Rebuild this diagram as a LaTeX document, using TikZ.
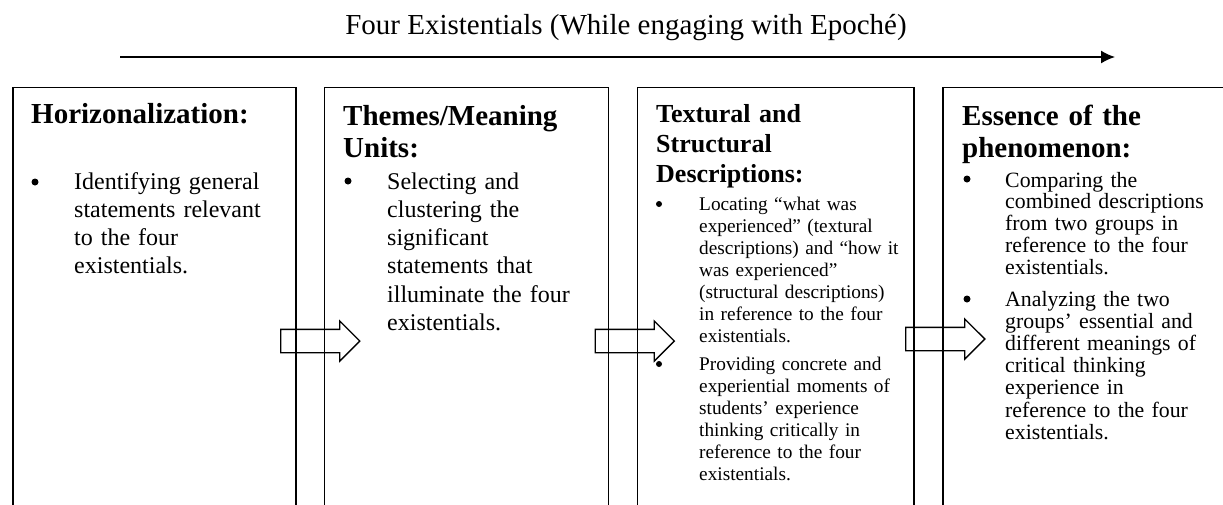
\documentclass[tikz,border=0pt]{standalone}
\usepackage{fontspec}
\setmainfont{Liberation Serif}
\usepackage{tikz}
\usetikzlibrary{shapes,positioning,calc,arrows.meta}

\tikzset{
    stagebox/.style={draw,line width=1.8pt,anchor=north west,
        minimum height=440pt,inner sep=0pt},
    stagehead/.style={anchor=base west,inner sep=0pt,align=left,
        text width=265pt,font=\bfseries\fontsize{29}{32}\selectfont},
    stagetext/.style={anchor=base west,inner sep=0pt,align=left,
        text width=220pt},
    stagebullet/.style={circle,fill=black,inner sep=0pt,minimum size=7pt},
    stagearrow/.style={draw,line width=1.3pt,single arrow,
        single arrow head extend=8.5pt,minimum width=0pt,
        minimum height=79pt,inner sep=11pt}
}

\begin{document}
\begin{tikzpicture}[x=1pt,y=1pt]
    \useasboundingbox (0,0) rectangle (1223,-504);

    %title and direction arrow
    \node[anchor=base,inner sep=0pt,font=\fontsize{29}{32}\selectfont]
        (title) at (626,-34) {Four Existentials (While engaging with Epoché)};
    \coordinate (flowstart) at (120,-57);
    \coordinate (flowend) at (1115,-57);
    \draw[line width=1.5pt,-{Latex[length=14pt,width=13pt]}]
        (flowstart) -- (flowend);

    %the four stages (bottom and right side run off the page)
    \node[stagebox,minimum width=283pt] (horiz) at (12,-86.5) {};
    \node[stagebox,minimum width=284pt] (themes) at (323.5,-86.5) {};
    \node[stagebox,minimum width=276.5pt] (descr) at (636.5,-86.5) {};
    \node[stagebox,minimum width=290pt] (essence) at (942,-86.5) {};

    %block arrows between the stages
    \node[stagearrow] (step1) at (314.5,-341) {};
    \node[stagearrow] (step2) at (629,-341) {};
    \node[stagearrow] (step3) at (939.5,-339) {};

    %stage 1
    \node[stagehead] (horizhead) at (31,-123) {Horizonalization:};
    \node[stagebullet] (horizdot) at (35,-182) {};
    \node[stagetext,font=\fontsize{24}{28.3}\selectfont] (horiztext)
        at (74,-189) {Identifying general\\statements relevant\\
        to the four\\existentials.};

    %stage 2
    \node[stagehead] (themeshead) at (343,-125) {Themes/Meaning\\Units:};
    \node[stagebullet] (themesdot) at (348,-181) {};
    \node[stagetext,font=\fontsize{24}{28.3}\selectfont] (themestext)
        at (387,-189) {Selecting and\\clustering the\\significant\\
        statements that\\illuminate the four\\existentials.};

    %stage 3
    \node[stagehead,font=\bfseries\fontsize{26}{30}\selectfont] (descrhead)
        at (656,-122) {Textural and\\Structural\\Descriptions:};
    \node[stagebullet,minimum size=6pt] (descrdot1) at (659,-204) {};
    \node[stagetext,font=\fontsize{19.3}{22.1}\selectfont] (descrtext1)
        at (699,-210) {Locating “what was\\experienced” (textural\\
        descriptions) and “how it\\was experienced”\\
        (structural descriptions)\\in reference to the four\\existentials.};
    \node[stagebullet,minimum size=6pt] (descrdot2) at (659,-364) {};
    \node[stagetext,font=\fontsize{19.3}{22.1}\selectfont] (descrtext2)
        at (699,-370) {Providing concrete and\\experiential moments of\\
        students’ experience\\thinking critically in\\
        reference to the four\\existentials.};

    %stage 4
    \node[stagehead] (essencehead) at (962,-125)
        {Essence of the\\phenomenon:};
    \node[stagebullet] (essencedot1) at (967,-179) {};
    \node[stagetext,font=\fontsize{21.8}{21.8}\selectfont] (essencetext1)
        at (1005,-187) {Comparing the\\combined descriptions\\
        from two groups in\\reference to the four\\existentials.};
    \node[stagebullet] (essencedot2) at (967,-299) {};
    \node[stagetext,font=\fontsize{21.8}{22.2}\selectfont] (essencetext2)
        at (1005,-306) {Analyzing the two\\groups’ essential and\\
        different meanings of\\critical thinking\\experience in\\
        reference to the four\\existentials.};
\end{tikzpicture}
\end{document}
